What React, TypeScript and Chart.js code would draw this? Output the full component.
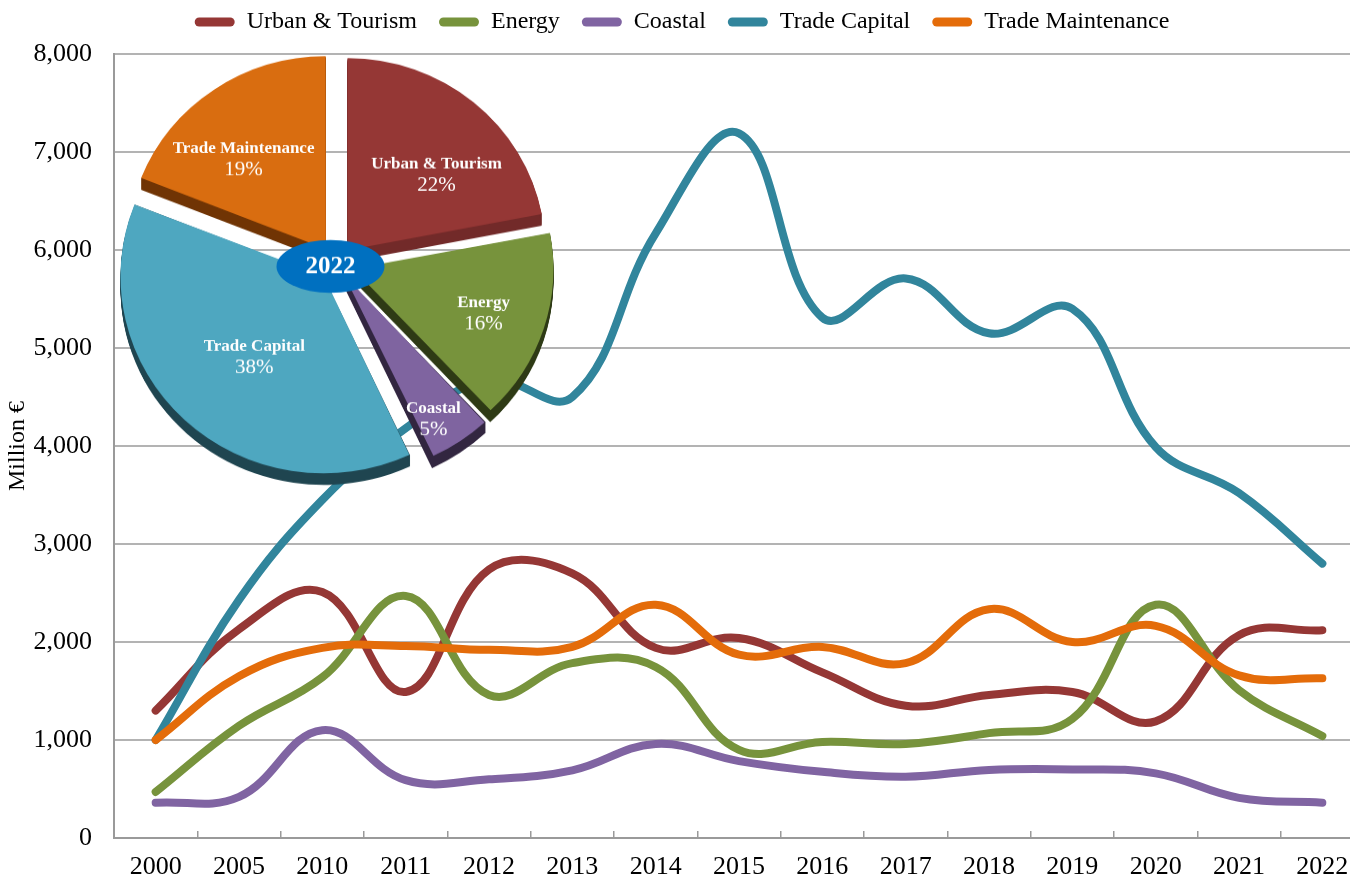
import { useEffect, useRef } from 'react';
import { Chart, registerables } from 'chart.js';

Chart.register(...registerables);

// ---------------- data ----------------
const YEARS = ['2000', '2005', '2010', '2011', '2012', '2013', '2014', '2015', '2016', '2017', '2018', '2019', '2020', '2021', '2022'];
const URBAN_TOURISM = [1300, 2130, 2510, 1490, 2740, 2700, 1940, 2040, 1690, 1350, 1460, 1490, 1190, 2070, 2120];
const ENERGY = [470, 1145, 1640, 2470, 1460, 1785, 1745, 900, 980, 960, 1070, 1215, 2380, 1510, 1040];
const COASTAL = [360, 420, 1100, 590, 600, 690, 960, 785, 675, 625, 695, 700, 660, 410, 360];
const TRADE_CAPITAL = [1000, 2430, 3450, 4180, 4680, 4500, 6170, 7190, 5310, 5710, 5150, 5400, 3990, 3520, 2800];
const TRADE_MAINTENANCE = [1000, 1650, 1940, 1960, 1920, 1950, 2380, 1870, 1950, 1785, 2335, 2000, 2165, 1660, 1630];
const SERIES_NAMES = ['Urban & Tourism', 'Energy', 'Coastal', 'Trade Capital', 'Trade Maintenance'];
const Y_MIN = 0;
const Y_MAX = 8000;
const Y_STEP = 1000;
const Y_TITLE = 'Million €';

const PIE_LABELS = ['Urban & Tourism', 'Energy', 'Coastal', 'Trade Capital', 'Trade Maintenance'];
const PIE_SHARES = [22, 16, 5, 38, 19];
const PIE_YEAR = '2022';

// ---------------- styles ----------------
const FONT = "'Liberation Serif', 'Times New Roman', serif";
const LINE_COLORS = ['#953735', '#77933c', '#8064a2', '#31859c', '#e46c0a'];
const PIE_COLORS = ['#953735', '#77933c', '#7f64a0', '#4ea7c0', '#d96d10'];
const PIE_SIDE_COLORS = ['#722a29', '#2e3a15', '#322640', '#1f4550', '#703404'];
const PIE_OFFSETS = [72, 72, 56, 72, 72]; // Chart.js arc offset (translation = offset / 4)
const PIE_LABEL_ANGLE = [0.597, 0.516, 0.656, 0.48, 0.408];
const PIE_LABEL_RADIUS = [0.693, 0.79, 0.947, 0.637, 0.721];
const PIE_RADIUS = 197.5;
const PIE_SQUASH = 0.97;
const DEPTH = 12;
const CANVAS_SHIFT = 12;

const legendHeightPlugin = {
  id: 'legendHeight',
  beforeInit(chart: any) {
    const legend = chart.legend;
    if (!legend) return;
    const fit = legend.fit;
    legend.fit = function () {
      fit.call(this);
      this.height = 54 + CANVAS_SHIFT;
    };
  },
};

const pie3dPlugin = {
  id: 'pie3d',
  beforeDatasetsDraw(chart: any) {
    const ctx = chart.ctx;
    const meta = chart.getDatasetMeta(0);
    meta.data.forEach((arc: any, i: number) => {
      const { x, y, startAngle, endAngle, outerRadius } = arc.getProps(['x', 'y', 'startAngle', 'endAngle', 'outerRadius'], true);
      const shift = (arc.options.offset || 0) / 4;
      const half = (startAngle + endAngle) / 2;
      const circ = endAngle - startAngle;
      const r = outerRadius + shift * (1 - Math.sin(Math.min(Math.PI, circ)));
      const cx = x + Math.cos(half) * shift;
      const cy = y + Math.sin(half) * shift;
      ctx.save();
      ctx.fillStyle = PIE_SIDE_COLORS[i];
      for (let k = 1; k <= DEPTH; k++) {
        ctx.beginPath();
        ctx.moveTo(cx, cy + k);
        ctx.arc(cx, cy + k, r, startAngle, endAngle);
        ctx.closePath();
        ctx.fill();
      }
      ctx.restore();
    });
  },
  afterDatasetsDraw(chart: any) {
    const ctx = chart.ctx;
    const meta = chart.getDatasetMeta(0);
    let center = { x: 0, y: 0 };
    ctx.save();
    ctx.fillStyle = '#ffffff';
    ctx.textAlign = 'center';
    ctx.textBaseline = 'middle';
    meta.data.forEach((arc: any, i: number) => {
      const { x, y, startAngle, endAngle, outerRadius } = arc.getProps(['x', 'y', 'startAngle', 'endAngle', 'outerRadius'], true);
      center = { x, y };
      const ang = startAngle + (endAngle - startAngle) * PIE_LABEL_ANGLE[i];
      const d = PIE_LABEL_RADIUS[i] * outerRadius;
      const px = x + Math.cos(ang) * d;
      const py = y + Math.sin(ang) * d;
      ctx.font = `bold 17px ${FONT}`;
      ctx.fillText(PIE_LABELS[i], px, py - 10);
      ctx.font = `21px ${FONT}`;
      ctx.fillText(`${PIE_SHARES[i]}%`, px, py + 12);
    });
    // year badge
    const bx = center.x - 5.5;
    const by = center.y + 3;
    ctx.beginPath();
    ctx.ellipse(bx, by, 54, 27.3, 0, 0, Math.PI * 2);
    ctx.fillStyle = '#0070c0';
    ctx.fill();
    ctx.fillStyle = '#ffffff';
    ctx.font = `bold 25px ${FONT}`;
    ctx.fillText(PIE_YEAR, bx, by + 1);
    ctx.restore();
  },
};

export default function App() {
  const lineRef = useRef<HTMLCanvasElement | null>(null);
  const pieRef = useRef<HTMLCanvasElement | null>(null);

  useEffect(() => {
    document.body.style.margin = '0';
    if (!lineRef.current || !pieRef.current) return;

    const seriesValues = [URBAN_TOURISM, ENERGY, COASTAL, TRADE_CAPITAL, TRADE_MAINTENANCE];
    const lineChart = new Chart(lineRef.current, {
      type: 'line',
      data: {
        labels: YEARS,
        datasets: seriesValues.map((values, i) => ({
          label: SERIES_NAMES[i],
          data: values,
          borderColor: LINE_COLORS[i],
          backgroundColor: LINE_COLORS[i],
          borderWidth: 8,
          pointRadius: 0,
          pointHoverRadius: 0,
          tension: 0.4,
          borderCapStyle: 'round',
          borderJoinStyle: 'round',
          fill: false,
          order: seriesValues.length - 1 - i,
        })),
      },
      options: {
        responsive: false,
        animation: false,
        events: [],
        layout: { padding: { top: 0, right: 6, bottom: 0, left: 0 } },
        plugins: {
          tooltip: { enabled: false },
          legend: {
            position: 'top',
            labels: {
              font: { family: FONT, size: 24 },
              color: '#000000',
              boxWidth: 40,
              boxHeight: 9,
              padding: 22,
              useBorderRadius: true,
              borderRadius: 4.5,
              generateLabels: (chart: any) =>
                Chart.defaults.plugins.legend.labels
                  .generateLabels(chart)
                  .map((l: any) => ({ ...l, lineWidth: 0 })),
              sort: (a: any, b: any) => a.datasetIndex - b.datasetIndex,
            },
          },
        },
        scales: {
          x: {
            type: 'category',
            offset: true,
            grid: {
              offset: true,
              drawOnChartArea: false,
              drawTicks: true,
              tickLength: -7,
              color: '#9a9a9a',
              lineWidth: 1.5,
            },
            border: { color: '#9a9a9a', width: 2 },
            ticks: {
              font: { family: FONT, size: 26 },
              color: '#000000',
              padding: 21,
              maxRotation: 0,
              autoSkip: false,
            },
            afterFit: (scale: any) => {
              scale.height = 40;
            },
          },
          y: {
            min: Y_MIN,
            max: Y_MAX,
            ticks: {
              stepSize: Y_STEP,
              font: { family: FONT, size: 26 },
              color: '#000000',
              padding: 22,
            },
            grid: { color: '#b3b3b3', lineWidth: 2, drawTicks: false },
            border: { color: '#9a9a9a', width: 2 },
            title: {
              display: true,
              text: Y_TITLE,
              font: { family: FONT, size: 24 },
              color: '#000000',
              padding: { top: 3, bottom: 0 },
            },
            afterFit: (scale: any) => {
              scale.width = 114;
            },
          },
        },
      } as any,
      plugins: [legendHeightPlugin],
    });

    const pieChart = new Chart(pieRef.current, {
      type: 'pie',
      data: {
        labels: PIE_LABELS,
        datasets: [
          {
            data: PIE_SHARES,
            backgroundColor: PIE_COLORS,
            borderWidth: 0,
            offset: PIE_OFFSETS,
            hoverOffset: 0,
          },
        ],
      },
      options: {
        responsive: false,
        animation: false,
        events: [],
        radius: PIE_RADIUS,
        layout: { padding: 0 },
        plugins: { legend: { display: false }, tooltip: { enabled: false } },
      } as any,
      plugins: [pie3dPlugin],
    });

    return () => {
      lineChart.destroy();
      pieChart.destroy();
    };
  }, []);

  return (
    <div style={{ position: 'relative', width: 1350, height: 878, overflow: 'hidden', background: '#ffffff' }}>
      <canvas
        ref={lineRef}
        width={1370}
        height={878 + CANVAS_SHIFT}
        style={{ position: 'absolute', left: 0, top: -CANVAS_SHIFT, width: 1370, height: 878 + CANVAS_SHIFT }}
      />
      <div
        style={{
          position: 'absolute',
          left: 86,
          top: 21,
          width: 500,
          height: 500,
          transform: `scaleY(${PIE_SQUASH})`,
          transformOrigin: '0 0',
        }}
      >
        <canvas ref={pieRef} width={500} height={500} style={{ width: 500, height: 500, display: 'block' }} />
      </div>
    </div>
  );
}
